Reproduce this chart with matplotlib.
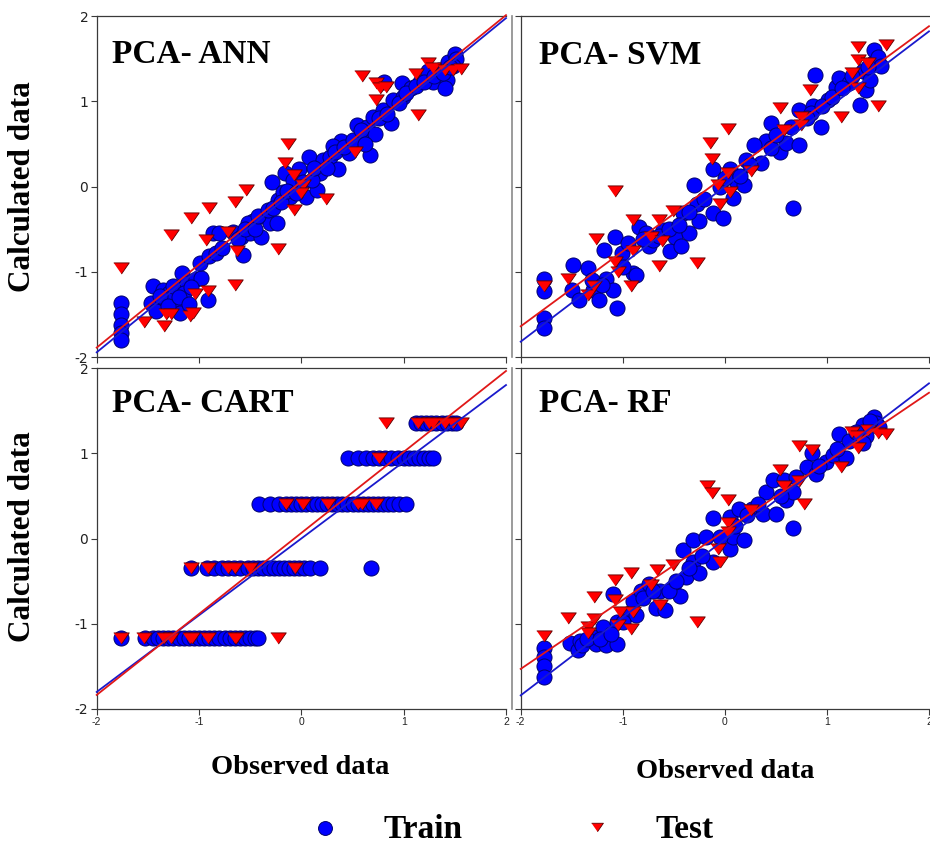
import matplotlib
matplotlib.use("Agg")
import matplotlib.pyplot as plt
from matplotlib.lines import Line2D

W, H = 930, 844

# ---------------- data (observed, calculated) ----------------
ann_train = [(-1.76, -1.37), (-1.76, -1.50), (-1.76, -1.62), (-1.76, -1.72), (-1.76, -1.80),
             (-1.47, -1.37), (-1.45, -1.17), (-1.42, -1.46), (-1.35, -1.21), (-1.32, -1.33),
             (-1.29, -1.25), (-1.22, -1.39), (-1.19, -1.48), (-1.25, -1.17), (-1.17, -1.02),
             (-1.12, -1.13), (-1.03, -1.09), (-0.98, -1.07), (-0.91, -1.33), (-0.99, -0.90),
             (-0.90, -0.82), (-0.83, -0.78), (-0.78, -0.72), (-0.86, -0.55), (-0.80, -0.55),
             (-0.67, -0.53), (-0.59, -0.59), (-0.57, -0.80), (-0.50, -0.55), (-0.47, -0.41),
             (-0.39, -0.59), (-0.37, -0.35), (-0.31, -0.43), (-0.24, -0.43), (-0.29, 0.05),
             (-0.23, -0.16), (-0.18, -0.06), (-0.16, 0.16), (-0.11, -0.12), (-0.07, 0.00),
             (-0.02, 0.21), (0.05, -0.12), (0.07, 0.35), (0.15, -0.04), (0.18, 0.16),
             (0.21, 0.31), (0.28, 0.35), (0.36, 0.21), (0.39, 0.53), (0.47, 0.39),
             (0.54, 0.72), (0.59, 0.59), (0.67, 0.37), (0.64, 0.70), (0.70, 0.82),
             (0.72, 0.61), (0.80, 0.90), (0.88, 0.74), (0.90, 1.02), (0.81, 1.23),
             (0.98, 1.21), (0.99, 1.05), (1.07, 1.15), (1.16, 1.23), (1.24, 1.35),
             (1.29, 1.23), (1.35, 1.37), (1.42, 1.25), (1.40, 1.15), (1.43, 1.46),
             (1.50, 1.56), (1.51, 1.50), (1.48, 1.41), (-0.52, -0.43), (-0.08, 0.08),
             (0.31, 0.47), (-1.38, -1.28), (-1.30, -1.40), (-1.15, -1.25), (-1.08, -1.18),
             (-1.20, -1.30), (-1.10, -1.38), (-0.62, -0.62), (-0.55, -0.50), (-0.45, -0.50),
             (-0.42, -0.35), (-0.33, -0.28), (-0.28, -0.25), (-0.20, -0.18), (-0.14, -0.05),
             (-0.05, -0.08), (0.02, 0.05), (0.10, 0.08), (0.12, 0.22), (0.25, 0.22),
             (0.33, 0.40), (0.42, 0.46), (0.50, 0.55), (0.58, 0.66), (0.62, 0.50),
             (0.76, 0.80), (0.84, 0.85), (0.95, 0.98), (1.02, 1.10), (1.12, 1.18),
             (1.20, 1.22), (1.30, 1.30), (1.38, 1.33), (1.45, 1.40)]
ann_test = [(-1.76, -0.96), (0.59, 1.30), (0.73, 1.21), (0.77, 1.15), (0.83, 1.17),
            (0.73, 1.02), (1.12, 1.32), (1.24, 1.45), (1.29, 1.39), (1.40, 1.37),
            (1.48, 1.37), (1.56, 1.38), (1.14, 0.84), (-0.13, 0.50), (-0.16, 0.28),
            (-0.07, 0.14), (0.02, 0.02), (0.00, -0.08), (-0.07, -0.27), (0.24, -0.15),
            (0.52, 0.41), (-0.54, -0.04), (-0.65, -0.18), (-0.90, -0.25), (-1.08, -0.37),
            (-1.27, -0.57), (-0.93, -0.63), (-0.72, -0.53), (-0.63, -0.76), (-0.23, -0.73),
            (-0.65, -1.16), (-1.04, -1.26), (-0.91, -1.23), (-1.54, -1.59), (-1.34, -1.64),
            (-1.32, -1.49), (-1.27, -1.50), (-1.09, -1.52), (-1.06, -1.48)]

svm_train = [(-1.77, -1.09), (-1.77, -1.23), (-1.77, -1.54), (-1.77, -1.66), (-1.50, -1.21),
             (-1.49, -0.92), (-1.43, -1.33), (-1.34, -0.96), (-1.29, -1.21), (-1.23, -1.33),
             (-1.18, -0.74), (-1.16, -1.09), (-1.10, -1.21), (-1.08, -0.59), (-1.06, -1.43),
             (-1.01, -0.78), (-0.95, -0.66), (-0.90, -1.02), (-0.87, -1.04), (-0.84, -0.47),
             (-0.77, -0.55), (-0.74, -0.70), (-0.70, -0.63), (-0.61, -0.51), (-0.54, -0.76),
             (-0.49, -0.59), (-0.43, -0.70), (-0.41, -0.31), (-0.35, -0.55), (-0.30, 0.02),
             (-0.27, -0.20), (-0.25, -0.41), (-0.12, -0.31), (-0.12, 0.21), (-0.02, -0.37),
             (0.05, 0.21), (0.08, -0.14), (0.11, 0.06), (0.19, 0.02), (0.21, 0.31),
             (0.35, 0.27), (0.40, 0.53), (0.29, 0.49), (0.45, 0.74), (0.54, 0.41),
             (0.60, 0.51), (0.67, -0.25), (0.73, 0.49), (0.73, 0.90), (0.86, 0.94),
             (0.94, 0.70), (0.88, 1.31), (1.01, 1.02), (1.09, 1.17), (1.12, 1.27),
             (1.22, 1.21), (1.32, 0.96), (1.35, 1.35), (1.38, 1.13), (1.45, 1.45),
             (1.46, 1.60), (1.50, 1.52), (1.53, 1.41), (1.42, 1.25), (0.84, 0.86),
             (-1.30, -1.10), (-1.20, -1.15), (-1.00, -0.95), (-0.80, -0.62), (-0.65, -0.58),
             (-0.55, -0.50), (-0.45, -0.45), (-0.35, -0.30), (-0.20, -0.15), (-0.05, 0.00),
             (0.00, 0.10), (0.15, 0.12), (0.25, 0.25), (0.45, 0.45), (0.50, 0.60),
             (0.65, 0.70), (0.80, 0.80), (0.95, 0.95), (1.05, 1.05), (1.15, 1.15),
             (1.25, 1.30), (1.40, 1.40)]
svm_test = [(-1.77, -1.17), (-1.54, -1.09), (-1.34, -1.27), (-1.28, -1.17), (-1.26, -0.62),
            (-1.08, -0.05), (-1.08, -0.88), (-1.05, -1.00), (-0.90, -0.39), (-0.90, -0.76),
            (-0.92, -1.17), (-0.72, -0.59), (-0.65, -0.39), (-0.62, -0.64), (-0.65, -0.93),
            (-0.51, -0.29), (-0.27, -0.90), (-0.15, 0.51), (-0.13, 0.32), (-0.07, 0.02),
            (-0.05, -0.21), (0.03, 0.68), (0.03, 0.16), (0.05, -0.06), (0.26, 0.18),
            (0.54, 0.92), (0.58, 0.66), (0.75, 0.82), (0.75, 0.72), (0.83, 1.13),
            (1.14, 0.82), (1.25, 1.33), (1.30, 1.64), (1.30, 1.48), (1.30, 1.15),
            (1.40, 1.45), (1.50, 0.94), (1.58, 1.66)]

cart_levels = [-1.17, -0.345, 0.403, 0.947, 1.35]
cart_train_obs = [
    [-1.76, -1.53, -1.45, -1.40, -1.35, -1.30, -1.25, -1.20, -1.15, -1.10, -1.05, -1.00,
     -0.95, -0.90, -0.85, -0.80, -0.75, -0.70, -0.65, -0.60, -0.55, -0.50, -0.45, -0.42],
    [-1.08, -0.92, -0.85, -0.78, -0.72, -0.66, -0.60, -0.52, -0.47, -0.42, -0.37, -0.32,
     -0.27, -0.22, -0.17, -0.12, -0.07, -0.02, 0.03, 0.08, 0.18, 0.68],
    [-0.41, -0.31, -0.22, -0.15, -0.10, -0.05, 0.00, 0.05, 0.10, 0.15, 0.20, 0.25, 0.30,
     0.35, 0.40, 0.45, 0.50, 0.55, 0.60, 0.65, 0.70, 0.75, 0.80, 0.85, 0.90, 0.95, 1.02],
    [0.46, 0.55, 0.63, 0.70, 0.76, 0.82, 0.88, 0.94, 1.00, 1.05, 1.10, 1.15, 1.20, 1.25, 1.29],
    [1.12, 1.17, 1.22, 1.27, 1.32, 1.37, 1.42, 1.47, 1.51],
]
cart_test_obs = [
    [-1.76, -1.54, -1.34, -1.27, -1.09, -1.07, -0.91, -0.65, -0.64, -0.23],
    [-1.08, -0.91, -0.72, -0.65, -0.50, -0.06],
    [-0.15, 0.02, 0.26, 0.55, 0.59, 0.73],
    [0.76],
    [0.83, 1.14, 1.25, 1.29, 1.40, 1.48, 1.56],
]

rf_train = [(-1.77, -1.29), (-1.77, -1.39), (-1.77, -1.49), (-1.77, -1.63), (-1.52, -1.22),
            (-1.44, -1.31), (-1.42, -1.20), (-1.29, -1.16), (-1.26, -1.24), (-1.19, -1.04),
            (-1.16, -1.25), (-1.10, -0.65), (-1.06, -1.24), (-1.06, -0.98), (-0.95, -0.88),
            (-0.90, -0.73), (-0.87, -0.90), (-0.82, -0.61), (-0.74, -0.53), (-0.67, -0.82),
            (-0.64, -0.61), (-0.59, -0.84), (-0.51, -0.57), (-0.44, -0.67), (-0.41, -0.14),
            (-0.38, -0.45), (-0.31, -0.02), (-0.31, -0.27), (-0.25, -0.41), (-0.18, 0.02),
            (-0.12, 0.24), (-0.12, -0.27), (0.05, 0.25), (0.05, -0.12), (0.08, 0.02),
            (0.14, 0.35), (0.19, -0.02), (0.27, 0.35), (0.37, 0.29), (0.40, 0.55),
            (0.47, 0.69), (0.50, 0.29), (0.58, 0.69), (0.60, 0.45), (0.67, 0.12),
            (0.67, 0.55), (0.80, 0.84), (0.85, 1.00), (0.89, 0.76), (0.99, 0.90),
            (1.06, 0.98), (1.12, 1.22), (1.19, 0.94), (1.22, 1.14), (1.35, 1.33),
            (1.38, 1.20), (1.46, 1.43), (1.48, 1.35), (1.51, 1.31), (1.35, 1.12),
            (-1.40, -1.25), (-1.35, -1.18), (-1.22, -1.18), (-1.12, -1.12), (-1.00, -0.98),
            (-0.80, -0.70), (-0.70, -0.62), (-0.55, -0.62), (-0.48, -0.50), (-0.35, -0.35),
            (-0.22, -0.20), (-0.05, 0.02), (0.10, 0.15), (0.22, 0.28), (0.32, 0.40),
            (0.55, 0.50), (0.70, 0.72), (0.92, 0.85), (1.10, 1.05), (1.28, 1.25),
            (1.42, 1.38)]
rf_test = [(-1.77, -1.14), (-1.54, -0.93), (-1.34, -1.04), (-1.34, -1.11), (-1.28, -0.69),
           (-1.28, -0.94), (-1.08, -0.49), (-1.08, -0.72), (-1.05, -1.02), (-1.03, -0.86),
           (-0.92, -0.41), (-0.90, -0.86), (-0.92, -1.06), (-0.72, -0.55), (-0.66, -0.37),
           (-0.64, -0.78), (-0.51, -0.31), (-0.27, -0.98), (-0.17, 0.61), (-0.13, 0.53),
           (-0.07, -0.12), (-0.05, -0.27), (0.03, 0.45), (0.03, 0.18), (0.03, 0.08),
           (0.26, 0.33), (0.54, 0.80), (0.58, 0.62), (0.73, 0.68), (0.73, 1.08),
           (0.85, 1.04), (0.78, 0.41), (1.14, 0.84), (1.25, 1.25), (1.30, 1.06),
           (1.30, 1.20), (1.40, 1.27), (1.50, 1.24), (1.58, 1.22)]

model_names = ["PCA- ANN", "PCA- SVM", "PCA- CART", "PCA- RF"]
train_fit_slope = [0.98, 0.91, 0.90, 0.915]
train_fit_intercept = [0.015, 0.00, 0.00, -0.01]
test_fit_slope = [0.975, 0.88, 0.95, 0.81]
test_fit_intercept = [0.06, 0.12, 0.065, 0.09]
tick_values = [-2, -1, 0, 1, 2]
tick_labels = ["-2", "-1", "0", "1", "2"]
x_label = "Observed data"
y_label = "Calculated data"
legend_labels = ["Train", "Test"]

# expand CART level lists into point lists
cart_train = [(x, lv) for lv, xs in zip(cart_levels, cart_train_obs) for x in xs]
cart_test = [(x, lv) for lv, xs in zip(cart_levels, cart_test_obs) for x in xs]

train_sets = [ann_train, svm_train, cart_train, rf_train]
test_sets = [ann_test, svm_test, cart_test, rf_test]

# ---------------- style ----------------
SERIF = "Liberation Serif"
SANS = "Liberation Sans"
BLUE = "#0000ff"
BLUE_EDGE = "#00006e"
RED = "#ff0000"
RED_EDGE = "#5a0000"
LINE_RED = "#e01818"
LINE_BLUE = "#1a1acc"
SPINE = "#3a3a3a"
TRI = [(-1, 0.72), (1, 0.72), (0, -0.72)]

fig = plt.figure(figsize=(W / 100, H / 100), dpi=100)


def rect(l, t, r, b):
    return [l / W, 1 - b / H, (r - l) / W, (b - t) / H]


rects = [rect(96.7, 16, 506, 357), rect(520.7, 16, 929, 357),
         rect(96.7, 368, 506, 709), rect(520.7, 368, 929, 709)]

for i in range(4):
    ax = fig.add_axes(rects[i])
    ax.set_xlim(-2, 2)
    ax.set_ylim(-2, 2)
    tr = train_sets[i]
    te = test_sets[i]
    ax.scatter([p[0] for p in tr], [p[1] for p in tr], s=118, marker="o",
               facecolor=BLUE, edgecolor=BLUE_EDGE, linewidth=0.7, zorder=2)
    ax.scatter([p[0] for p in te], [p[1] for p in te], s=125, marker=TRI,
               facecolor=RED, edgecolor=RED_EDGE, linewidth=0.6, zorder=3)
    xs = [-2.0, 2.0]
    ax.plot(xs, [train_fit_slope[i] * x + train_fit_intercept[i] for x in xs],
            color=LINE_BLUE, lw=1.3, zorder=4, clip_on=False)
    ax.plot(xs, [test_fit_slope[i] * x + test_fit_intercept[i] for x in xs],
            color=LINE_RED, lw=1.3, zorder=5, clip_on=False)

    ax.text(0.038 if i % 2 == 0 else 0.045, 0.862 if i < 2 else 0.872, model_names[i],
            transform=ax.transAxes, fontsize=24, fontweight="bold", family=SERIF,
            ha="left", va="baseline", zorder=6)

    ax.set_xticks(tick_values)
    ax.set_yticks(tick_values)
    ax.set_xticklabels(tick_labels, family=SANS, fontsize=7.5)
    ax.set_yticklabels(tick_labels, family=SANS, fontsize=7.5)
    ax.tick_params(direction="out", length=4, width=0.8, color=SPINE,
                   labelcolor="#222222", pad=2, top=False, right=False)
    if i < 2:
        ax.tick_params(labelbottom=False)
    if i % 2 == 1:
        ax.tick_params(labelleft=False)
    for s in ["left", "bottom", "top"]:
        ax.spines[s].set_color(SPINE)
        ax.spines[s].set_linewidth(0.9)
    if i % 2 == 0:
        ax.spines["right"].set_position(("outward", 4.3))
        ax.spines["right"].set_color("#8a8a8a")
        ax.spines["right"].set_linewidth(1.2)
    else:
        ax.spines["right"].set_visible(False)

# axis labels
for yc in (187, 537):
    fig.text(23 / W, 1 - yc / H, y_label, rotation=90, fontsize=22.5, fontweight="bold",
             family=SERIF, ha="center", va="center")
fig.text(300 / W, 1 - 768 / H, x_label, fontsize=20.5, fontweight="bold",
         family=SERIF, ha="center", va="center")
fig.text(725 / W, 1 - 772 / H, x_label, fontsize=20.5, fontweight="bold",
         family=SERIF, ha="center", va="center")

# legend
fig.add_artist(Line2D([325 / W], [1 - 828 / H], transform=fig.transFigure, marker="o",
                      markersize=10, markerfacecolor=BLUE, markeredgecolor=BLUE_EDGE,
                      markeredgewidth=0.7, linestyle="none"))
fig.add_artist(Line2D([597 / W], [1 - 827 / H], transform=fig.transFigure, marker=TRI,
                      markersize=8.5, markerfacecolor=RED, markeredgecolor=RED_EDGE,
                      markeredgewidth=0.6, linestyle="none"))
fig.text(383 / W, 1 - 838 / H, legend_labels[0], fontsize=24, fontweight="bold",
         family=SERIF, ha="left", va="baseline")
fig.text(655 / W, 1 - 838 / H, legend_labels[1], fontsize=24, fontweight="bold",
         family=SERIF, ha="left", va="baseline")

fig.savefig("out.png", dpi=100, facecolor="white")
